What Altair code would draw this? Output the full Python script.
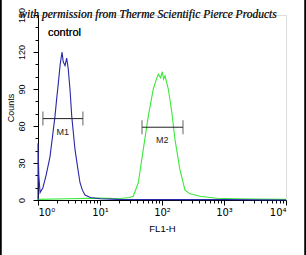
import altair as alt
import pandas as pd

# Histogram curves (FL1-H intensity, counts)
blue_fl = [1.0, 1.0, 1.03, 1.08, 1.2, 1.35, 1.56, 1.72, 1.88, 2.0, 2.13, 2.28, 2.44, 2.55, 2.73, 2.9, 3.08, 3.3, 3.5, 3.95, 4.4, 4.76, 5.2, 5.73, 7, 10, 20, 100, 1000, 10000]
blue_ct = [0, 46, 20, 6, 10, 20, 35, 52, 68, 82, 95, 110, 120, 112, 109, 115, 106, 88, 68, 41, 25, 14, 8, 4, 2, 1, 0.5, 0.3, 0.3, 0]
green_fl = [1, 3, 10, 20, 30, 34.4, 41.5, 49.9, 60.1, 72.4, 80, 87.1, 95, 101, 106, 111.8, 126.4, 143.3, 162, 195, 235, 283, 410, 762, 1500, 3000, 10000]
green_ct = [0.5, 1, 1.5, 1, 2, 3, 14, 41, 68, 90, 97, 102, 99, 104, 98, 100.7, 90, 72, 49, 24.5, 8, 5, 3, 1.4, 1, 0.8, 0.5]

# Markers
marker_names = ["M1", "M2"]
marker_lo = [1.2, 47.6]
marker_hi = [5.3, 218]
marker_y = [66, 59]
marker_mid = [2.5, 101]

x_ticks_major = [1, 10, 100, 1000, 10000]
x_ticks_minor = [m * d for d in [1, 10, 100, 1000] for m in range(2, 10)]
y_ticks_major = [0, 30, 60, 90, 120, 150]
y_ticks_minor = list(range(0, 151, 10))

curves = pd.DataFrame(
    {"fl": green_fl + blue_fl,
     "count": green_ct + blue_ct,
     "series": ["green"] * len(green_fl) + ["blue"] * len(blue_fl),
     "order": list(range(len(green_fl))) + list(range(len(blue_fl)))}
)
markers = pd.DataFrame({"name": marker_names, "lo": marker_lo, "hi": marker_hi,
                        "y": marker_y, "mid": marker_mid})

FONT = "Liberation Sans"
xscale = alt.Scale(type="log", domain=[1, 10000], nice=False)
yscale = alt.Scale(domain=[0, 150], nice=False)

label_expr = ("datum.value == 1 ? '10⁰' : datum.value == 10 ? '10¹' : datum.value == 100 ? '10²' : "
              "datum.value == 1000 ? '10³' : '10⁴'")

lines = alt.Chart(curves).mark_line(strokeWidth=1.1).encode(
    x=alt.X("fl:Q", scale=xscale,
            axis=alt.Axis(orient="bottom", values=x_ticks_major, labelExpr=label_expr,
                          title="FL1-H", tickSize=5, labelFontSize=10, titleFontSize=9.5,
                          titleFont=FONT, labelFont="DejaVu Sans", titleFontWeight="normal",
                          titlePadding=6, domainColor="black", tickColor="black",
                          labelColor="black", titleColor="black", grid=False, labelPadding=2)),
    y=alt.Y("count:Q", scale=yscale,
            axis=alt.Axis(orient="left", values=y_ticks_major, title="Counts", tickSize=5,
                          labelAngle=-90, labelAlign="center", labelBaseline="bottom",
                          labelFontSize=9, labelFont=FONT, titleFont=FONT, titleFontSize=9,
                          titleFontWeight="normal", titlePadding=2, domainColor="black",
                          tickColor="black", labelColor="black", titleColor="black",
                          grid=False, labelPadding=7)),
    color=alt.Color("series:N", scale=alt.Scale(domain=["green", "blue"],
                                                range=["#3be83b", "#2828a8"]), legend=None),
    order="order:Q",
)

minor_x = alt.Chart(curves).mark_line(opacity=0).encode(
    x=alt.X("fl:Q", scale=xscale,
            axis=alt.Axis(orient="bottom", values=x_ticks_minor, labels=False, title=None,
                          tickSize=3, domain=False, tickColor="black", grid=False)),
    y=alt.Y("count:Q", scale=yscale, axis=None),
)
minor_y = alt.Chart(curves).mark_line(opacity=0).encode(
    x=alt.X("fl:Q", scale=xscale, axis=None),
    y=alt.Y("count:Q", scale=yscale,
            axis=alt.Axis(orient="left", values=y_ticks_minor, labels=False, title=None,
                          tickSize=3, domain=False, tickColor="black", grid=False)),
)

mbase = alt.Chart(markers)
hbar = mbase.mark_rule(color="#222222", strokeWidth=1).encode(
    x=alt.X("lo:Q", scale=xscale, axis=None), x2="hi:Q",
    y=alt.Y("y:Q", scale=yscale, axis=None))
caps_lo = mbase.mark_tick(color="#222222", orient="vertical", size=14, thickness=1).encode(
    x=alt.X("lo:Q", scale=xscale, axis=None), y=alt.Y("y:Q", scale=yscale, axis=None))
caps_hi = mbase.mark_tick(color="#222222", orient="vertical", size=14, thickness=1).encode(
    x=alt.X("hi:Q", scale=xscale, axis=None), y=alt.Y("y:Q", scale=yscale, axis=None))
mtext = mbase.mark_text(font=FONT, fontSize=9, dy=13, color="#222222").encode(
    x=alt.X("mid:Q", scale=xscale, axis=None), y=alt.Y("y:Q", scale=yscale, axis=None),
    text="name:N")

control = alt.Chart(markers).mark_text(text="control", font=FONT, fontSize=11, align="left",
                                       baseline="middle", color="#111111").encode(
    x=alt.value(10), y=alt.value(18))
watermark = alt.Chart(markers).mark_text(
    text="with permission from Therme Scientific Pierce Products", font="Liberation Serif",
    fontStyle="italic", fontSize=11.5, align="center", baseline="middle", color="#222222"
).encode(x=alt.value(110), y=alt.value(0))
left_border = alt.Chart(markers).mark_rule(color="black", strokeWidth=2).encode(
    x=alt.value(-37.5), y=alt.value(-15), y2=alt.value(240))
right_border = alt.Chart(markers).mark_rule(color="black", strokeWidth=2).encode(
    x=alt.value(267.5), y=alt.value(-15), y2=alt.value(240))

chart = alt.layer(
    minor_x, minor_y, lines, hbar, caps_lo, caps_hi, mtext, control, watermark,
    left_border, right_border
).resolve_axis(x="independent", y="independent").properties(
    width=248, height=185,
    padding={"left": 38, "top": 15, "right": 20, "bottom": 55},
    autosize=alt.AutoSizeParams(type="none"),
).configure_view(stroke="black", strokeWidth=1).configure(background="white")

chart.save("out.html", embed_options={"renderer": "svg", "actions": False})
